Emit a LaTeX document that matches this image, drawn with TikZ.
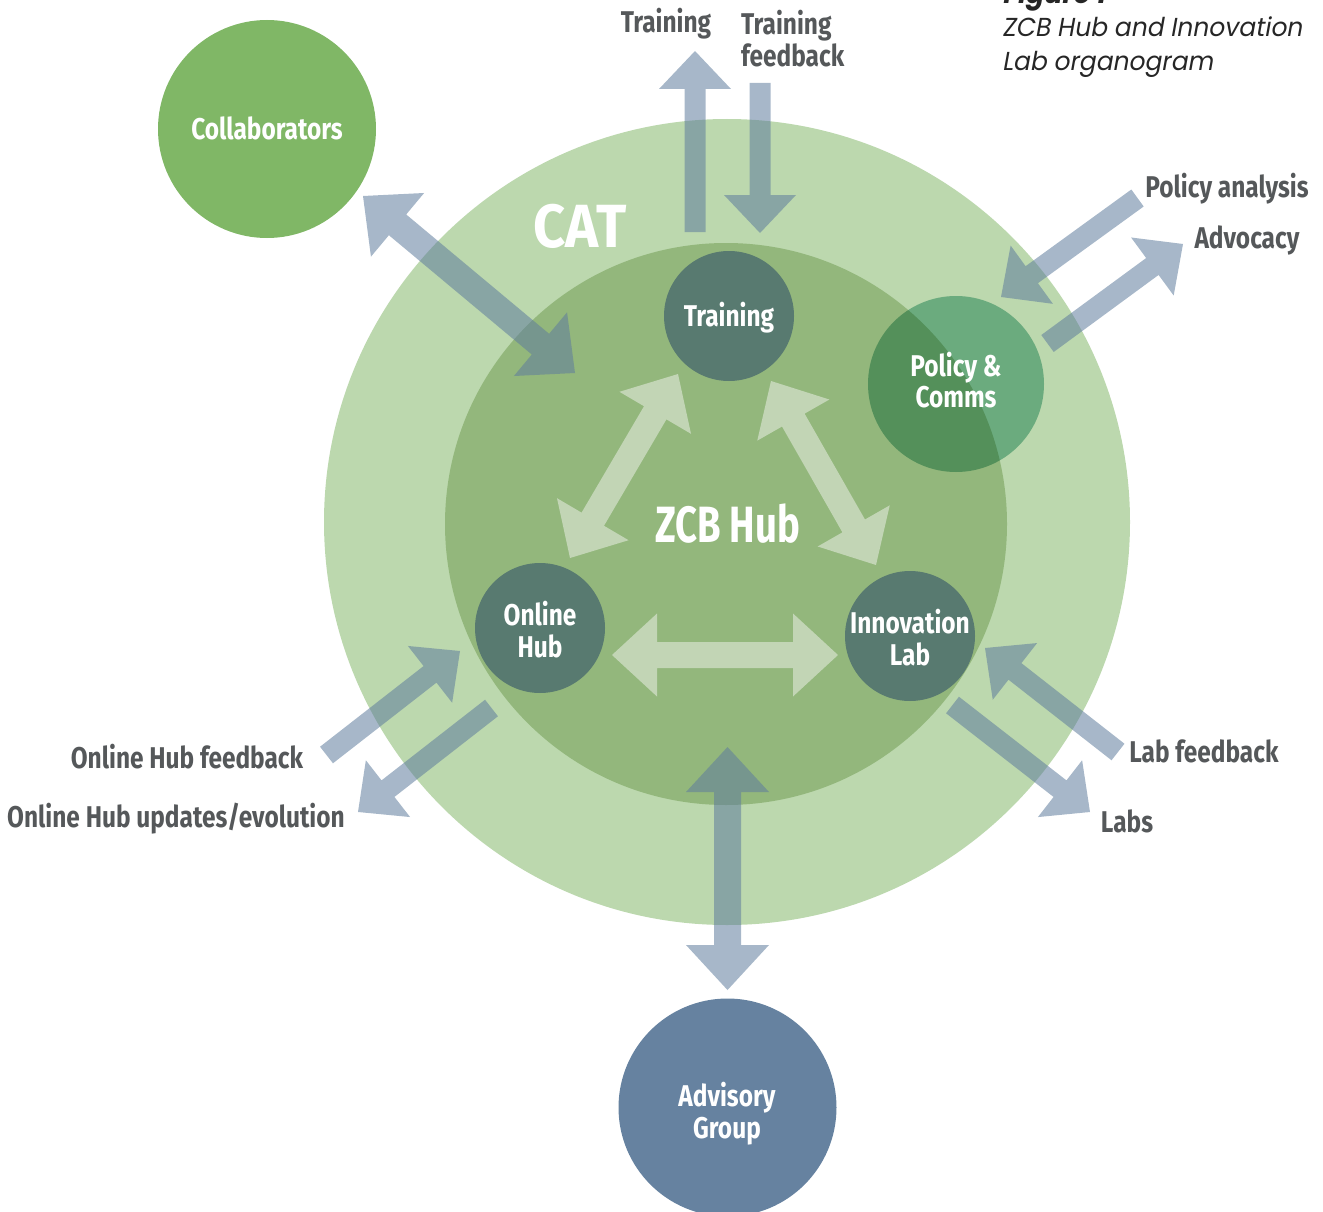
\documentclass[tikz,border=0pt]{standalone}
\usepackage{fontspec}
\newfontfamily\lab{Fira Sans}[FakeStretch=0.815]
\newfontfamily\labcat{Fira Sans}[FakeStretch=0.92]
\newfontfamily\labhub{Fira Sans}[FakeStretch=0.75]
\newfontfamily\capf{Poppins}[FakeSlant=0.18, FakeStretch=0.96]
\usetikzlibrary{calc}
\definecolor{catc}{HTML}{BCD8AE}
\definecolor{hubc}{HTML}{93B77C}
\definecolor{collc}{HTML}{80B766}
\definecolor{advc}{HTML}{6682A0}
\definecolor{darkc}{HTML}{587A70}
\definecolor{polc}{HTML}{92CABA}
\definecolor{arrc}{HTML}{5F7C9D}
\definecolor{inarrc}{HTML}{C2D5B5}
\definecolor{labc}{HTML}{55585A}
\newcommand\blockarr[6]{%
  \coordinate (ba-c) at ($(#3)!#6!(#2)$);
  \fill[#1] ($(#2)!#4!90:(#3)$) -- ($(ba-c)!#4!90:(#3)$) -- ($(ba-c)!#5!90:(#3)$) -- (#3)
    -- ($(ba-c)!#5!-90:(#3)$) -- ($(ba-c)!#4!-90:(#3)$) -- ($(#2)!#4!-90:(#3)$) -- cycle;}
\newcommand\dblockarr[6]{%
  \coordinate (ba-c) at ($(#3)!#6!(#2)$);
  \coordinate (ba-d) at ($(#2)!#6!(#3)$);
  \fill[#1] (#2) -- ($(ba-d)!#5!90:(#3)$) -- ($(ba-d)!#4!90:(#3)$) -- ($(ba-c)!#4!90:(#3)$)
    -- ($(ba-c)!#5!90:(#3)$) -- (#3) -- ($(ba-c)!#5!-90:(#3)$) -- ($(ba-c)!#4!-90:(#3)$)
    -- ($(ba-d)!#4!-90:(#3)$) -- ($(ba-d)!#5!-90:(#3)$) -- cycle;}
\tikzset{
  disc/.style={circle, inner sep=0pt, draw=none},
  lbl/.style={font=\lab\bfseries\fontsize{30}{32}\selectfont, text=labc, inner sep=0pt},
  wlbl/.style={font=\lab\bfseries\fontsize{30}{31.5}\selectfont, text=white, align=center, inner sep=0pt},
  outarr/.style={fill=arrc, fill opacity=0.55},
  inarr/.style={fill=inarrc},
}
\begin{document}
\begin{tikzpicture}[x=1pt,y=-1pt]
\useasboundingbox (0,0) rectangle (1323,1212);
% circles
\node[disc, fill=catc, minimum size=806pt] (cat) at (727,522) {};
\node[disc, fill=hubc, minimum size=562pt] (hub) at (726,524) {};
\node[disc, fill=collc, minimum size=218pt] (coll) at (267,129) {};
\node[disc, fill=advc, minimum size=218pt] (adv) at (727.5,1107.5) {};
\node[disc, fill=darkc, minimum size=130pt] (train) at (729,316) {};
\node[disc, fill=darkc, minimum size=130pt] (online) at (540,628) {};
\node[disc, fill=darkc, minimum size=130pt] (innov) at (910,636) {};
\begin{scope}[blend mode=multiply]
\node[disc, fill=polc, minimum size=176pt] (pol) at (956,384) {};
\end{scope}
% circle texts
\node[wlbl] (collt) at (267,128) {Collaborators};
\node[wlbl] (advt) at (727,1113.5) {Advisory\\Group};
\node[wlbl] (traint) at (729,318) {Training};
\node[wlbl] (onlinet) at (540,629.5) {Online\\Hub};
\node[wlbl] (innovt) at (910,637.5) {Innovation\\Lab};
\node[wlbl] (polt) at (956,380) {Policy \&\\Comms};
% big labels
\node[font=\labcat\bfseries\fontsize{61}{61}\selectfont, text=white, anchor=base, inner sep=0pt] (catl) at (580,247) {CAT};
\node[font=\labhub\bfseries\fontsize{51}{51}\selectfont, text=white, anchor=base, inner sep=0pt] (hubl) at (727.5,542) {ZCB Hub};
% outer labels
\node[lbl, anchor=base] (lt) at (666,33) {Training};
\node[lbl, anchor=north west, align=left] (ltf) at (741,10) {Training\\feedback};
\node[lbl, anchor=base] (lpa) at (1227,197) {Policy analysis};
\node[lbl, anchor=base] (lad) at (1247,248) {Advocacy};
\node[lbl, anchor=base] (lohf) at (187,768) {Online Hub feedback};
\node[lbl, anchor=base] (lohu) at (176,827) {Online Hub updates/evolution};
\node[lbl, anchor=base] (llf) at (1204,762) {Lab feedback};
\node[lbl, anchor=base] (llabs) at (1127,832) {Labs};
% caption
\node[font=\capf\bfseries\fontsize{28}{34}\selectfont, text=black!85, anchor=base west, inner sep=0pt] (fig) at (1002,4) {Figure 1};
\node[font=\capf\fontsize{26}{34}\selectfont, text=black!85, anchor=base west, inner sep=0pt] (cap1) at (1002,37) {ZCB Hub and Innovation};
\node[font=\capf\fontsize{26}{34}\selectfont, text=black!85, anchor=base west, inner sep=0pt] (cap2) at (1002,71) {Lab organogram};
% arrow end points
\coordinate (a1s) at (695,232); \coordinate (a1e) at (695,51);
\coordinate (a2s) at (760,83); \coordinate (a2e) at (760,233);
\coordinate (a3s) at (1137.5,198); \coordinate (a3e) at (1001,297);
\coordinate (a4s) at (1047.5,343.5); \coordinate (a4e) at (1183,244);
\coordinate (a5s) at (326.5,755); \coordinate (a5e) at (460,651);
\coordinate (a6s) at (491.5,708); \coordinate (a6e) at (358,812);
\coordinate (a7s) at (1118,752); \coordinate (a7e) at (985,648);
\coordinate (a8s) at (952.5,705); \coordinate (a8e) at (1090,812);
\coordinate (a9s) at (363,196); \coordinate (a9e) at (575,373);
\coordinate (a10s) at (727.5,747); \coordinate (a10e) at (727.5,990);
\coordinate (b1s) at (612,655); \coordinate (b1e) at (838,655);
\coordinate (b2s) at (570,558); \coordinate (b2e) at (678,374);
\coordinate (b3s) at (771,381); \coordinate (b3e) at (876,565);
% outer arrows
\blockarr{outarr}{a1s}{a1e}{10.5pt}{36pt}{38pt}
\blockarr{outarr}{a2s}{a2e}{10.5pt}{36pt}{38pt}
\blockarr{outarr}{a3s}{a3e}{10.5pt}{36pt}{38pt}
\blockarr{outarr}{a4s}{a4e}{10.5pt}{36pt}{38pt}
\blockarr{outarr}{a5s}{a5e}{10.5pt}{36pt}{38pt}
\blockarr{outarr}{a6s}{a6e}{10.5pt}{36pt}{38pt}
\blockarr{outarr}{a7s}{a7e}{10.5pt}{36pt}{38pt}
\blockarr{outarr}{a8s}{a8e}{10.5pt}{36pt}{38pt}
\dblockarr{outarr}{a9s}{a9e}{13.5pt}{41.5pt}{45pt}
\dblockarr{outarr}{a10s}{a10e}{13.5pt}{41.5pt}{45pt}
% inner arrows
\dblockarr{inarr}{b1s}{b1e}{13pt}{41.5pt}{45pt}
\dblockarr{inarr}{b2s}{b2e}{13pt}{41.5pt}{45pt}
\dblockarr{inarr}{b3s}{b3e}{13pt}{41.5pt}{45pt}
\end{tikzpicture}
\end{document}
